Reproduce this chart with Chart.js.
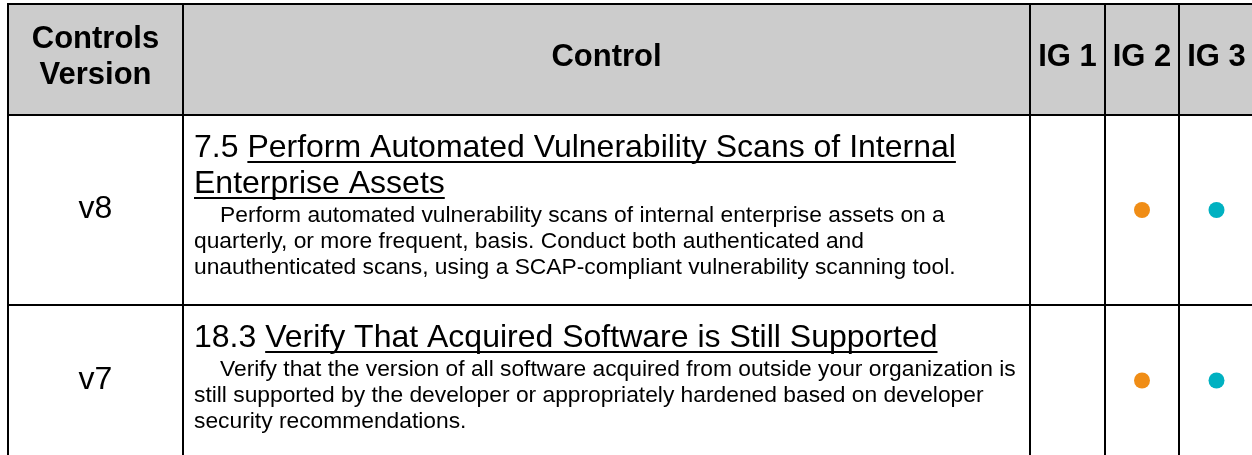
<!DOCTYPE html>
<html>
<head>
<meta charset="utf-8">
<title>CIS Controls table</title>
<script src="https://cdn.jsdelivr.net/npm/chart.js@4"></script>
<style>
  html, body { margin: 0; padding: 0; background: #fff; }
  canvas { display: block; }
</style>
</head>
<body>
<canvas id="table" width="1252" height="455"></canvas>
<script>
/* ---- Data ---- */
const headerLabels = ['Controls\nVersion', 'Control', 'IG 1', 'IG 2', 'IG 3'];
const versions = ['v8', 'v7'];
const controlIds = ['7.5', '18.3'];
const controlTitles = [
  ['Perform Automated Vulnerability Scans of Internal', 'Enterprise Assets'],
  ['Verify That Acquired Software is Still Supported']
];
const controlDescriptions = [
  ['Perform automated vulnerability scans of internal enterprise assets on a',
   'quarterly, or more frequent, basis. Conduct both authenticated and',
   'unauthenticated scans, using a SCAP-compliant vulnerability scanning tool.'],
  ['Verify that the version of all software acquired from outside your organization is',
   'still supported by the developer or appropriately hardened based on developer',
   'security recommendations.']
];
const ig1 = [false, false];
const ig2 = [true, true];
const ig3 = [true, true];

/* ---- Layout / style ---- */
const W = 1252, H = 455;
const COL_EDGES = [8, 183, 1030, 1105, 1179, 1254];
const ROW_EDGES = [4, 115, 305, 456];
const FONT = '"Liberation Sans", Arial, Helvetica, sans-serif';
const HEADER_BG = '#cccccc';
const IG_COLORS = ['#7f7f7f', '#f08d16', '#00b1c1'];

const colCenter = i => (COL_EDGES[i] + COL_EDGES[i + 1]) / 2;
const rowCenter = i => (ROW_EDGES[i] + ROW_EDGES[i + 1]) / 2;

function igDataset(col, flags, color) {
  return {
    label: headerLabels[col],
    data: flags.map((on, r) => on ? { x: colCenter(col), y: rowCenter(r + 1) } : null).filter(Boolean),
    backgroundColor: color,
    borderWidth: 0,
    pointRadius: 8,
    pointHoverRadius: 8,
  };
}

/* ---- Table grid + text plugin ---- */
const tablePlugin = {
  id: 'tableGrid',
  beforeDatasetsDraw(chart) {
    const { ctx, scales: { x, y } } = chart;
    const px = v => x.getPixelForValue(v);
    const py = v => y.getPixelForValue(v);
    const left = px(COL_EDGES[0]), right = px(COL_EDGES[COL_EDGES.length - 1]);
    const top = py(ROW_EDGES[0]), bottom = py(ROW_EDGES[ROW_EDGES.length - 1]);
    ctx.save();

    // header background
    ctx.fillStyle = HEADER_BG;
    ctx.fillRect(left, top, right - left, py(ROW_EDGES[1]) - top);

    // grid lines
    ctx.strokeStyle = '#000';
    ctx.lineWidth = 2;
    ctx.beginPath();
    COL_EDGES.forEach(c => { ctx.moveTo(px(c), top - 1); ctx.lineTo(px(c), bottom); });
    ROW_EDGES.forEach(r => { ctx.moveTo(left - 1, py(r)); ctx.lineTo(right, py(r)); });
    ctx.stroke();

    // header labels
    ctx.fillStyle = '#000';
    ctx.font = 'bold 31px ' + FONT;
    ctx.textAlign = 'center';
    headerLabels.forEach((lbl, i) => {
      const lines = lbl.split('\n');
      const cy = py(rowCenter(0));
      lines.forEach((ln, k) => {
        ctx.fillText(ln, px(colCenter(i)), cy - (lines.length - 1) * 18 + k * 36 + 6);
      });
    });

    // body rows
    versions.forEach((v, r) => {
      const rowTop = py(ROW_EDGES[r + 1]);
      ctx.font = '32px ' + FONT;
      ctx.textAlign = 'center';
      ctx.fillText(v, px(colCenter(0)), py(rowCenter(r + 1)) + 8);

      ctx.textAlign = 'left';
      const tx = px(COL_EDGES[1]) + 11;
      let base = rowTop + 42;
      controlTitles[r].forEach((ln, k) => {
        let sx = tx;
        if (k === 0) {
          const prefix = controlIds[r] + ' ';
          ctx.fillText(prefix, tx, base);
          sx = tx + ctx.measureText(prefix).width;
        }
        ctx.fillText(ln, sx, base);
        const w = ctx.measureText(ln).width;
        ctx.fillRect(sx, base + 4, w, 2);
        base += 36;
      });
      base += 29 - 36;
      ctx.font = '22.8px ' + FONT;
      controlDescriptions[r].forEach((ln, k) => {
        ctx.fillText(ln, tx + (k === 0 ? 26 : 0), base);
        base += 26;
      });
    });
    ctx.restore();
  }
};

new Chart(document.getElementById('table'), {
  type: 'scatter',
  data: {
    datasets: [
      igDataset(2, ig1, IG_COLORS[0]),
      igDataset(3, ig2, IG_COLORS[1]),
      igDataset(4, ig3, IG_COLORS[2]),
    ]
  },
  options: {
    responsive: false,
    animation: false,
    devicePixelRatio: 1,
    layout: { padding: 0, autoPadding: false },
    plugins: { legend: { display: false }, tooltip: { enabled: false } },
    scales: {
      x: { type: 'linear', min: 0, max: W, display: false },
      y: { type: 'linear', min: 0, max: H, reverse: true, display: false }
    }
  },
  plugins: [tablePlugin]
});
</script>
</body>
</html>
